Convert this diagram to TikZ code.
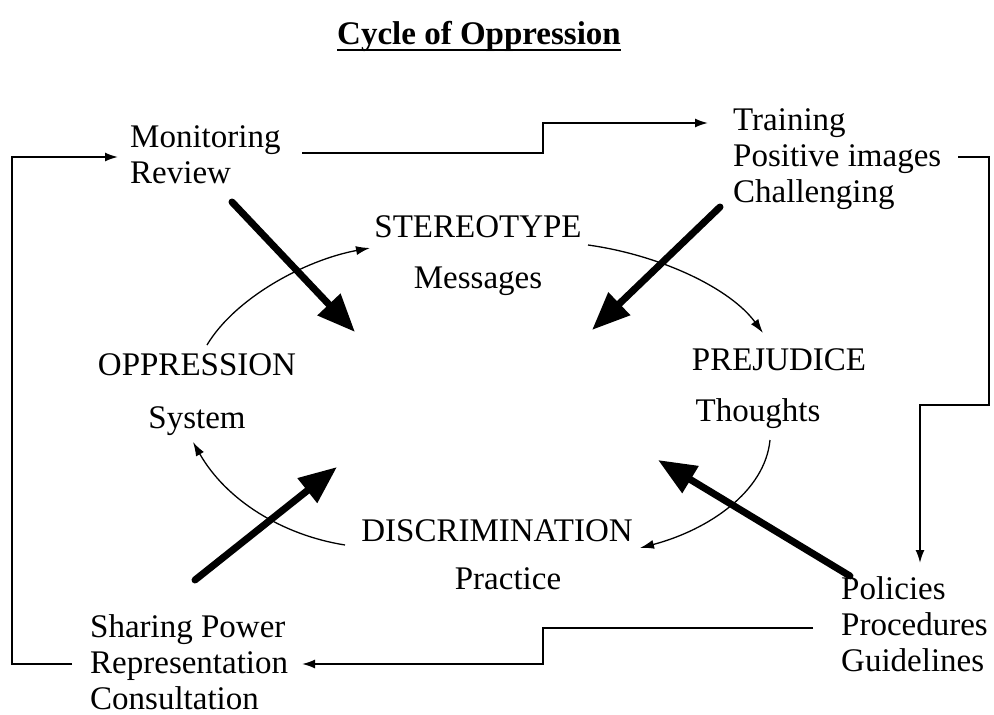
\documentclass[tikz,border=0pt]{standalone}
\usepackage{fontspec}
\setmainfont{Liberation Serif}
\usetikzlibrary{arrows.meta}
\begin{document}
\begin{tikzpicture}[x=1pt,y=-1pt,
  lbl/.style={inner sep=0pt,font=\fontsize{33}{36}\selectfont},
  block/.style={lbl,anchor=base west,align=left},
  cyc/.style={lbl,anchor=base},
  link/.style={line width=1.8pt,-{Latex[length=13pt,width=9pt]}},
  cycle arc/.style={line width=1.3pt,-{Latex[length=14pt,width=9pt]}},
  push/.style={line width=7pt,line cap=round,-{Triangle[length=38pt,width=30pt]}}]
\useasboundingbox (0,0) rectangle (994,715);

% title
\node[lbl,anchor=base,font=\fontsize{33}{36}\selectfont\bfseries] (title) at (479,44) {Cycle of Oppression};
\draw[line width=2pt] ([yshift=-6pt]title.base west) -- ([yshift=-6pt]title.base east);

% action blocks (anchored at the baseline of their last line)
\node[block] (mon) at (130,183) {Monitoring\\Review};
\node[block] (trn) at (733,202) {Training\\Positive images\\Challenging};
\node[block] (pol) at (841,671) {Policies\\Procedures\\Guidelines};
\node[block] (shr) at (90,709) {Sharing Power\\Representation\\Consultation};

% cycle stages
\node[cyc] (ste) at (478,237) {STEREOTYPE};
\node[cyc] (msg) at (478,288) {Messages};
\node[cyc] (pre) at (779,370) {PREJUDICE};
\node[cyc] (tho) at (758,421) {Thoughts};
\node[cyc] (dis) at (497,541) {DISCRIMINATION};
\node[cyc] (pra) at (508,589) {Practice};
\node[cyc] (opp) at (197,375) {OPPRESSION};
\node[cyc] (sys) at (197,428) {System};

% connector end points
\coordinate (monIn) at (118,157);
\coordinate (monOut) at (302,153);
\coordinate (trnIn) at (708,123);
\coordinate (trnOut) at (958,157);
\coordinate (polIn) at (920,563);
\coordinate (polOut) at (813,628);
\coordinate (shrIn) at (302,664);
\coordinate (shrOut) at (72,664);

% outer loop of actions
\draw[link] (monOut) -- (543,153) -- (543,123) -- (trnIn);
\draw[link] (trnOut) -- (989,157) -- (989,405) -- (920,405) -- (polIn);
\draw[link] (polOut) -- (543,628) -- (543,664) -- (shrIn);
\draw[link] (shrOut) -- (12,664) -- (12,157) -- (monIn);

% inner cycle
\draw[cycle arc] (207,345) .. controls (235,298) and (305,260) .. (370,248);
\draw[cycle arc] (588,245) .. controls (660,255) and (730,288) .. (763,333);
\draw[cycle arc] (770,440) .. controls (765,492) and (708,530) .. (640,548);
\draw[cycle arc] (345,545) .. controls (282,535) and (226,500) .. (193,442);

% interventions pushing into the cycle
\coordinate (hub1) at (355,332);
\coordinate (hub2) at (592,330);
\coordinate (hub3) at (658,460);
\coordinate (hub4) at (337,467);
\draw[push] (232,202) -- (hub1);
\draw[push] (720,207) -- (hub2);
\draw[push] (850,576) -- (hub3);
\draw[push] (195,580) -- (hub4);
\end{tikzpicture}
\end{document}
